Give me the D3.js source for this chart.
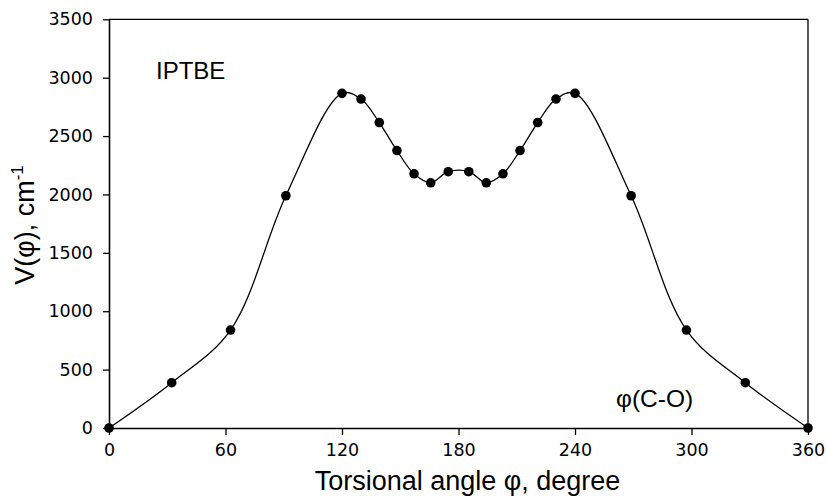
<!DOCTYPE html>
<html>
<head>
<meta charset="utf-8">
<script src="https://cdn.jsdelivr.net/npm/d3@7"></script>
<style>
  html, body { margin: 0; padding: 0; background: #fff; }
  svg { display: block; }
</style>
</head>
<body>
<svg id="chart" width="826" height="497"></svg>
<script>
// Data
const angles = [0, 32.3, 62.6, 91.1, 120, 129.8, 139.2, 148.3, 157.1, 165.7, 174.7, 185.3, 194.3, 202.9, 211.7, 220.8, 230.2, 240, 268.9, 297.4, 327.7, 360];
const energies = [0, 388, 839, 1989, 2866, 2817, 2616, 2376, 2177, 2100, 2195, 2195, 2100, 2177, 2376, 2616, 2817, 2866, 1989, 839, 388, 0];
const xTicks = [0, 60, 120, 180, 240, 300, 360];
const yTicks = [0, 500, 1000, 1500, 2000, 2500, 3000, 3500];
const xTitle = "Torsional angle \u03C6, degree";
const molLabel = "IPTBE";
const bondLabel = "\u03C6(C-O)";

const svg = d3.select("#chart");
const pL = 109, pR = 808, pT = 19.3, pB = 428;

const x = d3.scaleLinear().domain([0, 360]).range([pL, pR]);
const y = d3.scaleLinear().domain([0, 3500]).range([pB, pT]);

const tickFont = "'DejaVu Sans', Verdana, sans-serif";
const labelFont = "'Liberation Sans', Arial, sans-serif";

// Frame (top and right)
svg.append("line").attr("x1", pL).attr("x2", pR).attr("y1", pT).attr("y2", pT)
  .attr("stroke", "#000").attr("stroke-width", 1.3);
svg.append("line").attr("x1", pR).attr("x2", pR).attr("y1", pT).attr("y2", pB)
  .attr("stroke", "#000").attr("stroke-width", 1.3);

// Axes
const xAxis = d3.axisBottom(x).tickValues(xTicks).tickFormat(d3.format("d"))
  .tickSize(7).tickPadding(9).tickSizeOuter(0);
const yAxis = d3.axisLeft(y).tickValues(yTicks).tickFormat(d3.format("d"))
  .tickSize(6).tickPadding(10).tickSizeOuter(0);

const gx = svg.append("g").attr("transform", `translate(0,${pB})`).call(xAxis);
const gy = svg.append("g").attr("transform", `translate(${pL},0)`).call(yAxis);

[gx, gy].forEach(g => {
  g.select(".domain").attr("stroke", "#000").attr("stroke-width", 1.6);
  g.selectAll(".tick line").attr("stroke", "#000").attr("stroke-width", 1.3);
  g.selectAll(".tick text").attr("fill", "#000")
    .style("font-family", tickFont).style("font-size", "17.5px");
});

// Curve
const pts = angles.map((a, i) => [a, energies[i]]);
const line = d3.line().x(d => x(d[0])).y(d => y(d[1])).curve(d3.curveCatmullRom.alpha(0.5));
svg.append("path").datum(pts).attr("d", line)
  .attr("fill", "none").attr("stroke", "#000").attr("stroke-width", 1.3);

// Markers
svg.append("g").selectAll("circle").data(pts).join("circle")
  .attr("cx", d => x(d[0])).attr("cy", d => y(d[1])).attr("r", 4.8).attr("fill", "#000");

// Labels
svg.append("text").attr("x", 156).attr("y", 79).text(molLabel)
  .style("font-family", labelFont).style("font-size", "24px").attr("fill", "#000");
svg.append("text").attr("x", 616).attr("y", 407).text(bondLabel)
  .style("font-family", labelFont).style("font-size", "24.5px").attr("fill", "#000");

svg.append("text").attr("x", 467.5).attr("y", 490).attr("text-anchor", "middle")
  .text(xTitle).style("font-family", labelFont).style("font-size", "27px").attr("fill", "#000");

const yl = svg.append("text").attr("transform", `translate(33.5,225) rotate(-90)`)
  .attr("text-anchor", "middle")
  .style("font-family", labelFont).style("font-size", "27px").attr("fill", "#000");
yl.append("tspan").text("V(\u03C6), cm");
yl.append("tspan").attr("dy", -11).style("font-size", "17px").text("-1");
</script>
</body>
</html>
